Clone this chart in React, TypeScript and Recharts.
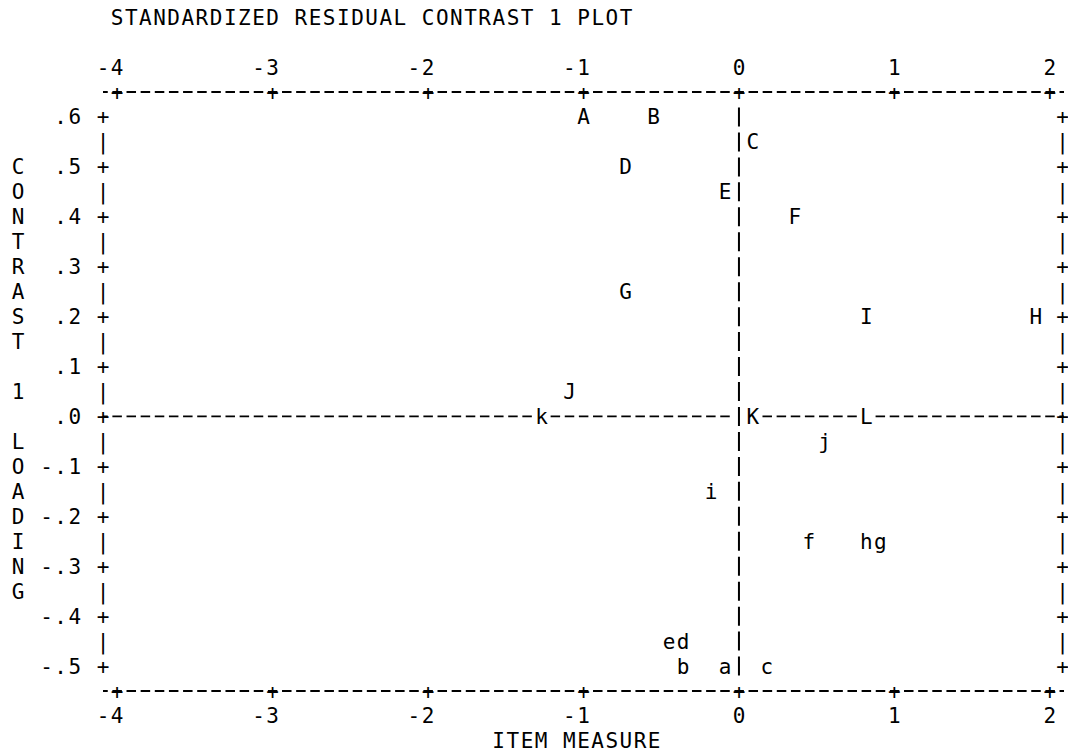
import { ScatterChart, Scatter, XAxis, YAxis, ReferenceLine } from 'recharts'

// items: letter code, item measure (x), contrast 1 loading (y)
const ITEM_LABELS = ['A', 'B', 'C', 'D', 'E', 'F', 'G', 'I', 'H', 'J', 'k', 'K', 'L', 'j', 'i', 'f', 'h', 'g', 'e', 'd', 'b', 'a', 'c']
const ITEM_MEASURES = [-1.0, -0.55, 0.09, -0.73, -0.09, 0.36, -0.73, 0.82, 1.91, -1.09, -1.27, 0.09, 0.82, 0.55, -0.18, 0.45, 0.82, 0.91, -0.45, -0.36, -0.36, -0.09, 0.18]
const CONTRAST_LOADINGS = [0.6, 0.6, 0.55, 0.5, 0.45, 0.4, 0.25, 0.2, 0.2, 0.05, 0, 0, 0, -0.05, -0.15, -0.25, -0.25, -0.25, -0.45, -0.45, -0.5, -0.5, -0.5]

const X_TICKS = [-4, -3, -2, -1, 0, 1, 2]
const X_TICK_LABELS = ['-4', '-3', '-2', '-1', '0', '1', '2']
const Y_TICKS = [0.6, 0.5, 0.4, 0.3, 0.2, 0.1, 0, -0.1, -0.2, -0.3, -0.4, -0.5]
const Y_TICK_LABELS = ['.6', '.5', '.4', '.3', '.2', '.1', '.0', '-.1', '-.2', '-.3', '-.4', '-.5']

const TITLE = 'STANDARDIZED RESIDUAL CONTRAST 1 PLOT'
const X_TITLE = 'ITEM MEASURE'
const Y_TITLE = 'CONTRAST 1 LOADING'

const data = ITEM_LABELS.map((label, i) => ({
  label,
  x: ITEM_MEASURES[i],
  y: CONTRAST_LOADINGS[i],
}))

// text-plot grid: 11 columns per logit, 2 rows per .1
const FONT = '"DejaVu Sans Mono", monospace'
const FS = 21
const GLYPH = FS * 0.602
const COL = 155.5 / 11
const LS = COL - GLYPH
const ROW = 599 / 24
const BASE = 7.5
const INK = '#000'

const X_MIN = -4 - 1 / 11
const X_MAX = 2 + 1 / 11
const Y_MIN = -0.55
const Y_MAX = 0.65

const BORDER_TICKS = Y_TICKS.flatMap((v, i) =>
  i < Y_TICKS.length - 1 ? [v, (v + Y_TICKS[i + 1]) / 2] : [v]
)

const HDASH = { stroke: INK, strokeWidth: 1.8, strokeDasharray: `9.5 ${COL - 9.5}` }

function gridText(firstCenter: number, row: number, s: string) {
  return (
    <text
      x={firstCenter - GLYPH / 2}
      y={row + BASE}
      fontFamily={FONT}
      fontSize={FS}
      letterSpacing={LS}
      fill={INK}
    >
      {s}
    </text>
  )
}

function glyph(x: number, row: number, s: string) {
  return (
    <text x={x} y={row + BASE} textAnchor="middle" fontFamily={FONT} fontSize={FS} fill={INK}>
      {s}
    </text>
  )
}

function XTick(props: any) {
  const { x, y, payload, side } = props
  const label = X_TICK_LABELS[X_TICKS.indexOf(payload.value)] ?? ''
  const labelRow = side === 'top' ? y - ROW : y + ROW
  return (
    <g>
      {glyph(x, y, '+')}
      {gridText(x - (label.length - 1) * COL, labelRow, label)}
    </g>
  )
}

function YTick(props: any) {
  const { y, payload, side } = props
  // keep the right border inside the picture
  const x = side === 'right' ? props.x - 1.5 : props.x
  const i = Y_TICKS.findIndex((v) => Math.abs(v - payload.value) < 1e-6)
  if (i < 0) return glyph(x, y, '|')
  const label = Y_TICK_LABELS[i]
  return (
    <g>
      {glyph(x, y, '+')}
      {side === 'left' && gridText(x - (label.length + 1) * COL, y, label)}
    </g>
  )
}

function TitleLabel() {
  return gridText(117.13, 92 - 3 * ROW, TITLE)
}

function XTitleLabel() {
  return gridText(739 - 17 * COL, 691 + 2 * ROW, X_TITLE)
}

function YTitleLabel() {
  return (
    <g>
      {Y_TITLE.split('').map((ch, i) => (
        <g key={i}>{ch !== ' ' && glyph(103 - 6 * COL, 92 + (3 + i) * ROW, ch)}</g>
      ))}
    </g>
  )
}

function ItemMark(props: any) {
  const { cx, cy, payload } = props
  return (
    <g>
      <rect x={cx - COL / 2} y={cy - 11} width={COL} height={22} fill="#fff" />
      {glyph(cx, cy, payload.label)}
    </g>
  )
}

function NoMark() {
  return <g />
}

export default function App() {
  return (
    <div style={{ position: 'absolute', left: 0, top: 0, width: 1068, height: 754, background: '#fff' }}>
      <ScatterChart width={1068} height={754} margin={{ top: 0, right: 0, bottom: 0, left: 0 }}>
        <XAxis
          xAxisId="top"
          orientation="top"
          type="number"
          dataKey="x"
          domain={[X_MIN, X_MAX]}
          ticks={X_TICKS}
          interval={0}
          height={92}
          tickSize={0}
          tickMargin={0}
          tickLine={false}
          axisLine={{ ...HDASH, strokeDashoffset: 4.75 }}
          tick={<XTick side="top" />}
          label={<TitleLabel />}
        />
        <XAxis
          xAxisId="bottom"
          orientation="bottom"
          type="number"
          dataKey="x"
          domain={[X_MIN, X_MAX]}
          ticks={X_TICKS}
          interval={0}
          height={63}
          tickSize={0}
          tickMargin={0}
          tickLine={false}
          axisLine={{ ...HDASH, strokeDashoffset: 4.75 }}
          tick={<XTick side="bottom" />}
          label={<XTitleLabel />}
        />
        <YAxis
          yAxisId="left"
          orientation="left"
          type="number"
          dataKey="y"
          domain={[Y_MIN, Y_MAX]}
          ticks={BORDER_TICKS}
          interval={0}
          width={103}
          tickSize={0}
          tickMargin={0}
          tickLine={false}
          axisLine={false}
          tick={<YTick side="left" />}
          label={<YTitleLabel />}
        />
        <YAxis
          yAxisId="right"
          orientation="right"
          type="number"
          dataKey="y"
          domain={[Y_MIN, Y_MAX]}
          ticks={BORDER_TICKS}
          interval={0}
          width={4}
          tickSize={0}
          tickMargin={0}
          tickLine={false}
          axisLine={false}
          tick={<YTick side="right" />}
        />
        <ReferenceLine
          xAxisId="bottom"
          yAxisId="left"
          segment={[{ x: X_MIN, y: 0 }, { x: -0.045, y: 0 }]}
          {...HDASH}
          strokeDashoffset={4.75}
        />
        <ReferenceLine
          xAxisId="bottom"
          yAxisId="left"
          segment={[{ x: 0.045, y: 0 }, { x: X_MAX, y: 0 }]}
          {...HDASH}
          strokeDashoffset={11.74}
        />
        <ReferenceLine
          xAxisId="bottom"
          yAxisId="left"
          segment={[{ x: 0, y: 0.619 }, { x: 0, y: -0.519 }]}
          stroke={INK}
          strokeWidth={2}
          strokeDasharray={`19 ${ROW - 19}`}
        />
        {/* binds the top and right border axes so their ticks are drawn */}
        <Scatter
          xAxisId="top"
          yAxisId="right"
          data={data}
          shape={<NoMark />}
          isAnimationActive={false}
        />
        <Scatter
          xAxisId="bottom"
          yAxisId="left"
          data={data}
          shape={<ItemMark />}
          isAnimationActive={false}
        />
      </ScatterChart>
    </div>
  )
}
